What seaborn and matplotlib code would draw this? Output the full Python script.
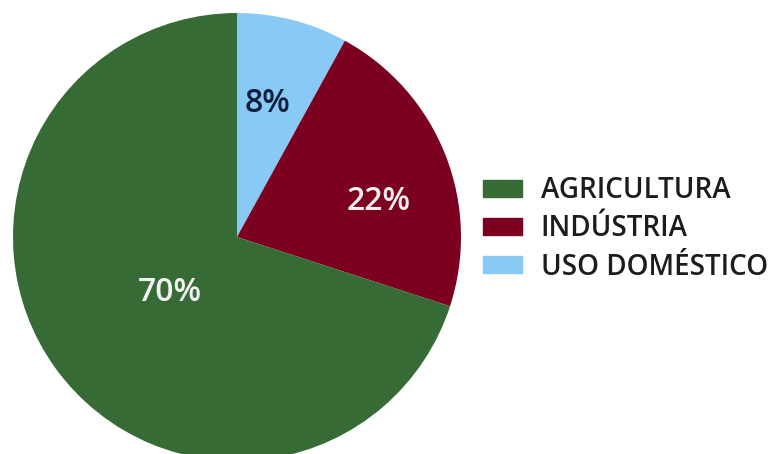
import matplotlib
matplotlib.use("Agg")
import matplotlib.pyplot as plt
import seaborn as sns
import numpy as np

# Water use by sector (percent)
sectors = ["AGRICULTURA", "INDÚSTRIA", "USO DOMÉSTICO"]
shares = [70, 22, 8]
colors = ["#376b35", "#7c0020", "#88c9f6"]
label_colors = ["#f2f2f2", "#f4eef0", "#0d1f3d"]

sns.set_theme(style="white")
plt.rcParams["font.family"] = ["Open Sans", "DejaVu Sans"]

fig = plt.figure(figsize=(7.84, 4.54), dpi=100)
ax = fig.add_axes([13 / 784, -7 / 454, 448 / 784, 448 / 454])

# Slices run clockwise from 12 o'clock: domestic, industry, agriculture
order = [2, 1, 0]
wedges, texts, autotexts = ax.pie(
    [shares[i] for i in order],
    colors=[colors[i] for i in order],
    startangle=90,
    counterclock=False,
    autopct="%d%%",
    pctdistance=0.6,
    wedgeprops=dict(linewidth=0),
)
ax.set_xlim(-1, 1)
ax.set_ylim(-1, 1)
ax.set_aspect("equal")
ax.axis("off")

# Percentage labels: (angle in degrees, fraction of radius)
label_pos = {2: (77, 0.61), 1: (14, 0.65), 0: (219.4, 0.39)}
for t, i in zip(autotexts, order):
    ang, r = label_pos[i]
    t.set_position((r * np.cos(np.radians(ang)), r * np.sin(np.radians(ang))))
    t.set_text(f"{shares[i]}%")
    t.set_color(label_colors[i])
    t.set_fontsize(23)
    t.set_fontweight("semibold")

handles = [plt.Rectangle((0, 0), 1, 1, color=c) for c in colors]
fig.legend(
    handles, sectors,
    loc="center left",
    bbox_to_anchor=(483 / 784, 1 - 229 / 454),
    frameon=False,
    borderpad=0,
    borderaxespad=0,
    handlelength=1.4,
    handleheight=0.55,
    handletextpad=0.68,
    labelspacing=0.33,
    prop=dict(size=20, weight="semibold"),
    labelcolor="#1c1c1c",
)

fig.savefig("out.png", dpi=100, facecolor="white")
